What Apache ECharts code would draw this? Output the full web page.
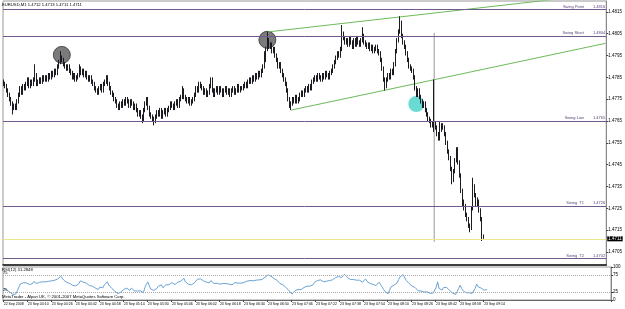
<!DOCTYPE html>
<html><head><meta charset="utf-8">
<script src="https://cdn.jsdelivr.net/npm/echarts@6/dist/echarts.min.js"></script>
<style>html,body{margin:0;padding:0;background:#fff}#c{width:625px;height:309px}</style>
</head><body><div id="c"></div><script>
const symbolTitle = 'EURUSD,M1 1.4712 1.4713 1.4711 1.4711';
const rsiTitle = 'RSI(12) 31.2848';
const footer = 'MetaTrader - Alpari UK, \u00a9 2001-2007 MetaQuotes Software Corp.';
const BASE = 1.47; // bar prices below are pips above 1.4700
const openPips = [83,82,81,79,77,75,73,71,72,71, 74,77,80,78,81,80,82,84,81,83, 82,84,86,82,83,84,83,85,84,85, 84,86,85,87,86,88,87,90,92,94,
 93,91,90,89,90,88,87,85,86,84, 85,86,89,87,88,86,87,85,84,85, 83,82,80,79,78,80,81,79,82,83, 85,82,80,78,77,75,74,72,71,73,
 72,74,73,75,74,72,74,73,71,72, 70,68,69,67,66,70,73,75,71,68, 67,66,65,67,69,68,70,67,69,70, 68,70,71,73,72,71,73,74,72,75,
 76,79,76,75,74,75,73,74,75,77, 80,79,82,81,80,78,79,77,78,81, 84,79,77,79,80,78,80,79,77,79, 80,78,79,77,79,80,78,79,81,79,
 80,80,81,82,81,83,84,83,85,84, 86,85,87,86,88,90,93,98,102,99, 100,97,98,95,93,90,91,88,86,84, 82,79,75,72,73,75,74,76,74,75,
 77,78,77,79,80,79,81,80,83,84, 85,84,86,85,84,86,85,87,86,85, 87,88,90,92,94,96,95,98,105,103, 101,102,100,103,101,99,102,100,103,101,
 100,102,104,101,100,99,100,98,99,97, 98,99,97,96,93,89,84,81,84,86, 85,88,87,91,97,102,106,110,104,101, 99,96,93,90,89,88,85,80,77,79,
 76,74,72,73,70,68,66,65,63,64, 64,62,59,57,61,63,62,59,55,51, 48,43,38,42,47,52,46,40,33,27, 26,22,20,17,16,25,35,31,27,28, 24,20,12];
const highPips = [84,83,82,80,78,76,74,73,73,75, 78,81,81,82,82,83,85,85,84,84, 85,91,87,84,85,85,86,86,86,86, 87,87,88,88,89,89,91,93,97,95,
 94,92,91,91,91,89,88,87,87,86, 87,91,90,89,89,88,88,86,86,86, 84,83,81,80,81,82,82,83,84,86, 86,83,81,79,78,76,75,73,74,74,
 75,75,76,76,75,75,75,74,73,73, 71,70,70,68,71,74,76,76,72,69, 68,67,68,70,70,71,71,70,71,71, 71,72,74,74,73,74,75,75,76,77,
 81,80,77,76,76,76,75,76,78,81, 81,83,83,82,81,80,80,79,82,85, 85,80,80,81,81,81,81,80,80,81, 81,80,80,80,81,81,80,82,82,81,
 81,82,83,83,84,85,85,86,86,87, 87,88,88,89,91,97,99,106,103,101, 101,99,99,96,94,92,92,89,87,85, 83,80,76,74,76,76,77,77,76,78,
 79,79,80,81,81,82,82,84,85,86, 86,87,87,86,87,87,88,88,87,88, 89,91,93,95,97,97,99,109,106,104, 103,103,104,104,102,103,103,104,104,102,
 103,108,105,102,101,101,101,100,100,99, 100,100,98,97,94,90,85,85,87,87, 89,89,92,98,103,107,113,111,105,102, 100,97,94,91,90,89,86,81,80,80,
 77,75,74,74,71,69,67,66,65,84, 65,63,60,65,64,64,63,60,56,52, 49,44,43,48,53,53,47,41,34,29, 27,23,21,18,26,39,36,32,30,29, 25,21,13];
const lowPips = [81,80,78,76,74,72,68,70,70,70, 73,76,77,77,79,79,81,80,80,81, 81,83,81,81,82,82,82,83,83,83, 83,84,84,85,85,86,86,89,91,92,
 90,89,88,88,87,86,84,84,83,83, 84,85,86,86,85,85,84,83,83,82, 81,79,78,77,77,79,78,78,81,82, 81,79,77,76,74,73,71,70,70,71,
 71,72,72,73,71,71,72,70,70,69, 67,67,66,64,65,69,72,70,67,66, 65,63,64,66,67,67,66,66,68,67, 67,69,70,71,70,70,72,71,71,74,
 75,75,74,73,73,72,72,73,74,76, 78,78,80,79,77,77,76,76,77,80, 78,76,76,78,77,77,78,76,76,78, 77,77,76,76,78,77,77,78,78,78,
 79,79,80,80,80,82,82,82,83,83, 84,84,85,85,87,89,92,97,98,98, 96,96,94,92,89,89,87,85,83,81, 78,74,71,70,72,73,73,73,73,74,
 76,76,76,78,78,78,79,79,82,83, 83,83,84,83,83,84,84,85,84,84, 86,87,89,91,93,94,94,97,102,100, 100,99,99,100,98,98,99,99,100,99,
 99,101,100,99,98,98,97,97,96,96, 97,96,95,92,88,83,79,80,83,84, 84,86,86,90,96,101,105,103,100,98, 95,92,89,88,87,84,79,76,76,75,
 73,71,71,69,67,65,64,62,62,60, 61,58,56,56,60,61,58,54,50,47, 42,36,37,41,46,45,39,32,26,24, 21,19,16,14,15,24,30,26,26,23, 19,10,11];
const closePips = [82,81,79,77,75,73,71,72,71,74, 77,80,78,81,80,82,84,81,83,82, 84,86,82,83,84,83,85,84,85,84, 86,85,87,86,88,87,90,92,94,93,
 91,90,89,90,88,87,85,86,84,85, 86,89,87,88,86,87,85,84,85,83, 82,80,79,78,80,81,79,82,83,85, 82,80,78,77,75,74,72,71,73,72,
 74,73,75,74,72,74,73,71,72,70, 68,69,67,66,70,73,75,71,68,67, 66,65,67,69,68,70,67,69,70,68, 70,71,73,72,71,73,74,72,75,76,
 79,76,75,74,75,73,74,75,77,80, 79,82,81,80,78,79,77,78,81,84, 79,77,79,80,78,80,79,77,79,80, 78,79,77,79,80,78,79,81,79,80,
 80,81,82,81,83,84,83,85,84,86, 85,87,86,88,90,93,98,102,99,100, 97,98,95,93,90,91,88,86,84,82, 79,75,72,73,75,74,76,74,75,77,
 78,77,79,80,79,81,80,83,84,85, 84,86,85,84,86,85,87,86,85,87, 88,90,92,94,96,95,98,105,103,101, 102,100,103,101,99,102,100,103,101,100,
 102,104,101,100,99,100,98,99,97,98, 99,97,96,93,89,84,81,84,86,85, 88,87,91,97,102,106,110,104,101,99, 96,93,90,89,88,85,80,77,79,76,
 74,72,73,70,68,66,65,63,64,64, 62,59,57,61,63,62,59,55,51,48, 43,38,42,47,52,46,40,33,27,26, 22,20,17,16,25,35,31,27,28,24, 20,12,11];
const rsiValues = [36,33,30,27,24,21,17,22,18,28, 38,48,44,52,48,52,56,47,52,49, 56,62,50,52,54,51,55,53,55,52, 57,54,58,55,60,57,64,68,72,68,
 60,56,53,56,50,48,44,47,43,46, 49,58,52,54,49,51,46,44,47,42, 40,36,34,32,39,42,37,46,49,55, 45,40,35,32,27,24,19,16,24,22,
 32,30,36,34,29,36,33,28,32,27, 23,28,24,22,38,48,55,42,33,31, 29,27,35,42,39,46,37,43,46,40, 46,48,53,50,47,52,54,48,57,59,
 66,55,51,48,52,46,49,52,57,63, 58,64,61,58,52,54,49,52,59,65, 50,45,51,53,48,53,50,45,50,53, 48,51,46,51,53,48,51,56,51,53,
 53,55,57,55,59,61,58,62,60,64, 61,65,62,66,69,73,76,78,72,73, 65,66,60,56,50,52,46,42,38,34, 28,22,18,22,28,26,32,28,31,36,
 38,36,42,45,42,48,46,54,57,59, 56,61,58,55,60,57,62,59,56,61, 66,68,70,71,72,68,72,78,74,68, 66,62,66,62,58,60,56,60,56,54,
 60,64,56,52,50,51,47,49,44,46, 54,48,40,32,25,20,19,30,40,38, 45,44,52,62,70,74,77,74,60,55, 50,45,42,40,38,34,28,25,27,23,
 24,22,25,21,20,22,21,20,38,55, 35,31,30,38,40,38,35,29,24,21, 19,17,25,35,45,35,28,24,22,25, 22,21,20,19,35,48,40,35,36,32, 30,30,31.28];
const timeLabels = ['22 Sep 2008','23 Sep 04:10','23 Sep 04:26','23 Sep 04:42','23 Sep 04:58','23 Sep 05:14','23 Sep 05:30','23 Sep 05:46',
 '23 Sep 06:02','23 Sep 06:18','23 Sep 06:34','23 Sep 06:50','23 Sep 07:06','23 Sep 07:22','23 Sep 07:38','23 Sep 07:54','23 Sep 08:10',
 '23 Sep 08:26','23 Sep 08:42','23 Sep 08:58','23 Sep 09:14'];
const barsPerLabel = 16;
const totalSlots = 405; // bars plus the empty chart shift on the right
const priceTicks = [1.4705,1.4715,1.4725,1.4735,1.4745,1.4755,1.4765,1.4775,1.4785,1.4795,1.4805,1.4815];
const levelNames = ['Swing Point','Swing Short','Swing Low','Swing  T1','Swing  T2'];
const levelValues = [1.4816,1.4804,1.4765,1.4726,1.4702];
const currentPrice = 1.4711;
const rsiLevels = [75,25];
const rsiTicks = [0,25,75,100];
const upperTrend = [[177,1.48058],[404,1.48234]];
const lowerTrend = [[193,1.4770],[404,1.48006]];
const verticalMarker = [[289,1.48054],[289,1.47096]];
const greyCircles = [[39,1.47953],[177,1.48022]];
const cyanCircles = [[277,1.47728]];

const FONT = 'Liberation Sans';
const cats = [];
for (let i = 0; i < totalSlots; i++) {
  const k = i / barsPerLabel;
  cats.push(i % barsPerLabel === 0 && k < timeLabels.length ? timeLabels[k] : '');
}
const bars = closePips.map((c, i) => [BASE + openPips[i]/1e4, BASE + c/1e4, BASE + lowPips[i]/1e4, BASE + highPips[i]/1e4]);
const chart = echarts.init(document.getElementById('c'), null, {renderer: 'canvas'});
const small = {fontFamily: FONT, fontSize: 4.5, color: '#000'};
const levelLines = levelNames.map((n, i) => ({
  yAxis: levelValues[i],
  label: {formatter: '{n|' + n + '}{p|' + levelValues[i].toFixed(4) + '}'}
}));
const purple = '#5a4478';
chart.setOption({
  animation: false,
  backgroundColor: '#fff',
  title: [
    {text: symbolTitle, left: 2, top: 3, padding: 0, textStyle: {fontFamily: FONT, fontSize: 4.2, fontWeight: 'normal', color: '#000'}},
    {text: rsiTitle, left: 2, top: 268, padding: 0, textStyle: {fontFamily: FONT, fontSize: 4.2, fontWeight: 'normal', color: '#000'}},
    {text: footer, left: 2, top: 295, padding: 0, textStyle: {fontFamily: FONT, fontSize: 4.2, fontWeight: 'normal', color: '#000'}}
  ],
  grid: [
    {left: 3, right: 14, top: 1, height: 264, show: true, borderColor: '#999', borderWidth: 1},
    {left: 3, right: 14, top: 267, height: 33, show: true, borderColor: '#999', borderWidth: 1}
  ],
  xAxis: [
    {type: 'category', gridIndex: 0, data: cats, boundaryGap: true,
     axisLine: {show: true, lineStyle: {color: '#111', width: 1.5}}, axisTick: {show: false}, axisLabel: {show: false}, splitLine: {show: false}},
    {type: 'category', gridIndex: 1, data: cats, boundaryGap: true,
     axisLine: {show: true, lineStyle: {color: '#666'}},
     axisTick: {show: true, length: 2, interval: (i) => i % barsPerLabel === 0 && i / barsPerLabel < timeLabels.length, lineStyle: {color: '#444'}},
     axisLabel: {show: true, interval: 0, align: 'left', margin: 2, fontFamily: FONT, fontSize: 3.5, color: '#000'},
     splitLine: {show: false}}
  ],
  yAxis: [
    {type: 'value', gridIndex: 0, position: 'right', min: 1.4699, max: 1.4820, scale: true,
     axisLine: {show: true, lineStyle: {color: '#888'}},
     axisTick: {show: true, length: 2, customValues: priceTicks, lineStyle: {color: '#444'}},
     axisLabel: Object.assign({show: true, margin: 2, customValues: priceTicks, formatter: v => v.toFixed(4)}, small),
     splitLine: {show: false}},
    {type: 'value', gridIndex: 1, position: 'right', min: 0, max: 100,
     axisLine: {show: true, lineStyle: {color: '#888'}},
     axisTick: {show: true, length: 2, customValues: rsiTicks, lineStyle: {color: '#444'}},
     axisLabel: Object.assign({show: true, margin: 2, customValues: rsiTicks}, small),
     splitLine: {show: false}}
  ],
  series: [
    {type: 'scatter', xAxisIndex: 0, yAxisIndex: 0, data: greyCircles, symbol: 'circle', symbolSize: 17, z: 1, silent: true,
     itemStyle: {color: '#5a5a5a', borderColor: '#333', borderWidth: 1}},
    {type: 'scatter', xAxisIndex: 0, yAxisIndex: 0, data: cyanCircles, symbol: 'circle', symbolSize: 16, z: 1, silent: true,
     itemStyle: {color: '#43d2c9'}},
    {type: 'line', xAxisIndex: 0, yAxisIndex: 0, data: upperTrend, showSymbol: false, symbol: 'none', z: 2, silent: true,
     lineStyle: {color: '#6cbb5a', width: 1},
     markLine: {silent: true, symbol: 'none', animation: false, precision: 4,
       lineStyle: {color: '#6e5a8c', width: 1, type: 'solid'},
       label: {show: true, position: 'insideEndTop', distance: 1, color: purple, fontFamily: FONT, fontSize: 4,
         rich: {n: {padding: [0, 9, 0, 0], fontSize: 4, fontFamily: FONT, color: purple}, p: {fontSize: 4, fontFamily: FONT, color: purple}}},
       data: levelLines}},
    {type: 'line', xAxisIndex: 0, yAxisIndex: 0, data: lowerTrend, showSymbol: false, symbol: 'none', z: 2, silent: true,
     lineStyle: {color: '#6cbb5a', width: 1},
     markLine: {silent: true, symbol: 'none', animation: false, precision: 4,
       lineStyle: {color: '#ece78a', width: 1, type: 'solid'},
       label: {show: true, position: 'end', distance: 1, formatter: currentPrice.toFixed(4), backgroundColor: '#000', color: '#fff',
           padding: [0, 1], fontSize: 4.5, fontFamily: FONT},
       data: [{yAxis: currentPrice}]}},
    {type: 'line', xAxisIndex: 0, yAxisIndex: 0, data: verticalMarker, showSymbol: false, symbol: 'none', z: 2, silent: true,
     lineStyle: {color: '#999', width: 1}},
    {type: 'candlestick', xAxisIndex: 0, yAxisIndex: 0, data: bars, barWidth: 1, z: 3, silent: true,
     itemStyle: {color: '#1b1b22', color0: '#1b1b22', borderColor: '#1b1b22', borderColor0: '#1b1b22', borderWidth: 1}},
    {type: 'line', xAxisIndex: 1, yAxisIndex: 1, data: rsiValues, showSymbol: false, symbol: 'none', silent: true,
     lineStyle: {color: '#6aa3d6', width: 1},
     markLine: {silent: true, symbol: 'none', animation: false,
       lineStyle: {color: '#aaa', width: 1, type: 'dotted'},
       label: {show: true, position: 'insideStartTop', distance: 0, formatter: '{c}', fontFamily: FONT, fontSize: 4, color: '#000'},
       data: rsiLevels.map(v => ({yAxis: v}))}}
  ]
});
</script></body></html>
